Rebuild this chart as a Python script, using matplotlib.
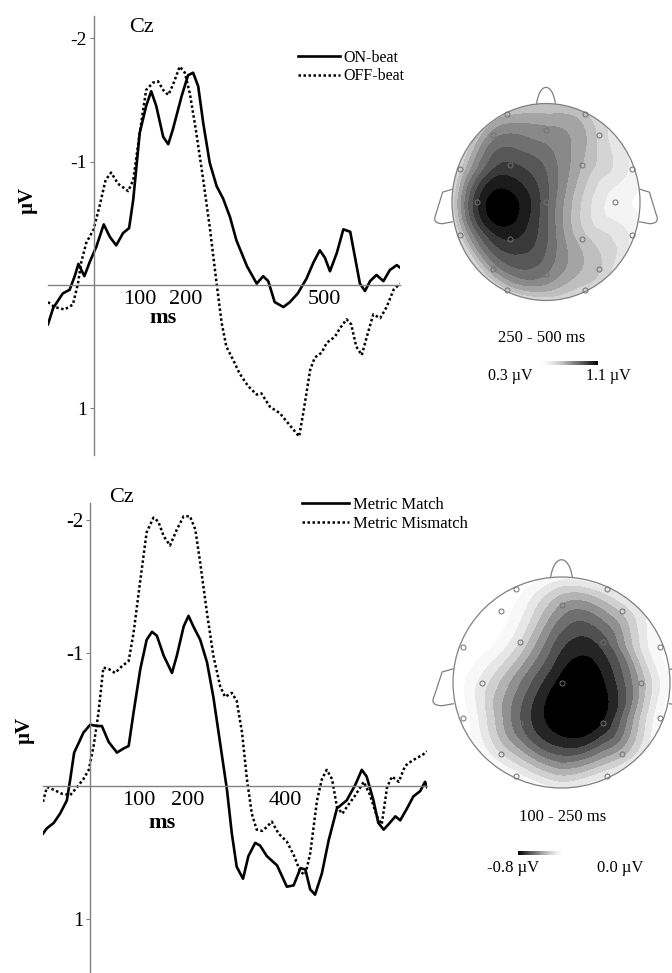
import numpy as np
import matplotlib
matplotlib.use('Agg')
import matplotlib.pyplot as plt
import matplotlib.tri as mtri
from matplotlib.patches import Circle, PathPatch
from matplotlib.path import Path
from matplotlib.cm import ScalarMappable
from matplotlib.colors import Normalize

plt.rcParams['font.family'] = ['Liberation Serif', 'DejaVu Serif']

W, H = 672, 973
GRAY = '#808080'

# ---- top panel: ON-beat vs OFF-beat (ms, microvolts) ----
on_t = [-99, -88, -67, -52, -41, -33, -20, -9, 6, 22, 35, 49, 64, 77, 86, 100,
        114, 125, 136, 151, 162, 172, 191, 205, 216, 227, 238, 252, 267, 281,
        296, 310, 333, 354, 368, 379, 393, 412, 426, 443, 462, 477, 491, 502,
        513, 528, 542, 557, 567, 578, 589, 600, 614, 629, 643, 658, 665]
on_v = [0.32, 0.19, 0.07, 0.04, -0.07, -0.17, -0.07, -0.18, -0.31, -0.49, -0.39,
        -0.32, -0.42, -0.46, -0.69, -1.23, -1.45, -1.57, -1.45, -1.20, -1.14,
        -1.26, -1.53, -1.70, -1.72, -1.61, -1.31, -0.99, -0.80, -0.70, -0.55,
        -0.36, -0.15, -0.01, -0.07, -0.03, 0.14, 0.18, 0.14, 0.07, -0.05, -0.18,
        -0.28, -0.22, -0.11, -0.26, -0.45, -0.43, -0.23, -0.01, 0.05, -0.03,
        -0.08, -0.03, -0.12, -0.16, -0.14]
off_t = [-99, -85, -63, -45, -34, -27, -16, 0, 13, 26, 38, 53, 75, 86, 100, 114,
         129, 140, 151, 162, 172, 187, 198, 209, 223, 238, 252, 267, 278, 288,
         303, 317, 335, 354, 364, 383, 404, 426, 446, 455, 470, 480, 495, 506,
         524, 535, 549, 559, 570, 582, 593, 607, 622, 636, 651, 665]
off_v = [0.14, 0.18, 0.20, 0.16, -0.01, -0.18, -0.34, -0.45, -0.64, -0.85, -0.91,
         -0.82, -0.76, -0.85, -1.23, -1.58, -1.64, -1.65, -1.58, -1.54, -1.62,
         -1.77, -1.72, -1.55, -1.23, -0.85, -0.47, -0.01, 0.31, 0.50, 0.61, 0.72,
         0.82, 0.89, 0.88, 0.99, 1.04, 1.14, 1.23, 1.04, 0.69, 0.59, 0.55, 0.47,
         0.42, 0.35, 0.28, 0.32, 0.50, 0.57, 0.42, 0.24, 0.27, 0.18, 0.04, -0.01]

# ---- bottom panel: Metric Match vs Metric Mismatch ----
match_t = [-97, -89, -75, -62, -48, -41, -33, -24, -14, 0, 14, 24, 38, 55, 68, 79,
           89, 103, 116, 127, 137, 151, 168, 178, 192, 202, 212, 226, 240, 253,
           267, 281, 291, 301, 314, 325, 339, 349, 363, 384, 404, 418, 432, 442,
           452, 462, 476, 490, 507, 527, 545, 558, 568, 582, 592, 603, 613, 627,
           637, 651, 664, 678, 688, 692]
match_v = [0.36, 0.32, 0.28, 0.21, 0.11, -0.05, -0.25, -0.32, -0.40, -0.46, -0.45,
           -0.45, -0.33, -0.25, -0.28, -0.30, -0.55, -0.88, -1.10, -1.16, -1.13,
           -0.98, -0.85, -0.98, -1.20, -1.28, -1.20, -1.10, -0.93, -0.67, -0.32,
           0.03, 0.36, 0.61, 0.70, 0.53, 0.43, 0.45, 0.53, 0.60, 0.76, 0.75, 0.62,
           0.63, 0.78, 0.82, 0.66, 0.41, 0.17, 0.11, -0.01, -0.12, -0.07, 0.11,
           0.28, 0.33, 0.29, 0.23, 0.26, 0.17, 0.08, 0.04, -0.03, 0.01]
mism_t = [-97, -89, -75, -58, -41, -27, -14, -3, 7, 17, 27, 38, 51, 65, 79, 89,
          103, 116, 130, 140, 151, 164, 178, 192, 205, 216, 226, 240, 253, 267,
          277, 291, 301, 312, 322, 332, 342, 353, 363, 373, 387, 404, 418, 432,
          442, 452, 466, 476, 486, 497, 507, 518, 531, 545, 562, 575, 589, 599,
          610, 620, 634, 647, 658, 671, 682, 692]
mism_v = [0.12, 0.01, 0.03, 0.06, 0.07, 0.01, -0.05, -0.12, -0.30, -0.55, -0.89,
          -0.88, -0.85, -0.90, -0.94, -1.15, -1.55, -1.91, -2.02, -1.99, -1.88,
          -1.81, -1.93, -2.03, -2.03, -1.93, -1.68, -1.30, -0.98, -0.75, -0.67,
          -0.70, -0.64, -0.40, -0.05, 0.21, 0.33, 0.34, 0.31, 0.27, 0.36, 0.42,
          0.52, 0.65, 0.67, 0.51, 0.11, -0.05, -0.12, -0.05, 0.16, 0.21, 0.14,
          0.07, -0.03, 0.07, 0.23, 0.29, 0.01, -0.07, -0.03, -0.15, -0.18, -0.21,
          -0.23, -0.26]

# ---- electrode layout (x right, y towards the nose), head radius 1 ----
elec_x = [-0.42, 0.42, -0.56, 0.0, 0.56, -0.91, -0.38, 0.38, 0.91, -0.73, 0.0,
          0.73, -0.91, -0.38, 0.38, 0.91, -0.56, 0.0, 0.56, -0.42, 0.42]
elec_y = [0.89, 0.89, 0.68, 0.73, 0.68, 0.34, 0.38, 0.38, 0.34, 0.0, 0.0, 0.0,
          -0.34, -0.38, -0.38, -0.34, -0.68, -0.73, -0.68, -0.89, -0.89]
rim_angle = [0, 22.5, 45, 67.5, 90, 112.5, 135, 157.5, 180, 202.5, 225, 247.5,
             270, 292.5, 315, 337.5]

# 250-500 ms map (uV)
top_elec_v = [0.60, 0.55, 0.74, 0.72, 0.52, 0.52, 0.95, 0.62, 0.36, 1.0, 0.88,
              0.34, 0.52, 1.02, 0.58, 0.36, 0.70, 0.78, 0.55, 0.52, 0.50]
top_rim_v = [0.26, 0.28, 0.40, 0.45, 0.45, 0.48, 0.42, 0.34, 0.28, 0.27, 0.26,
             0.30, 0.36, 0.42, 0.36, 0.27]
top_peak = (-0.34, -0.12, 1.12)

# 100-250 ms map (uV)
bot_elec_v = [0.05, -0.12, 0.05, -0.42, -0.28, 0.10, -0.22, -0.66, 0.0, -0.15,
              -0.85, -0.38, 0.05, -0.60, -0.80, -0.02, -0.20, -0.55, -0.34,
              -0.05, -0.12]
bot_rim_v = [0.05, 0.0, -0.02, 0.05, 0.08, 0.1, 0.12, 0.12, 0.12, 0.12, 0.1,
             0.05, 0.02, 0.0, 0.0, 0.05]
bot_peak = (0.08, -0.15, -0.92)


def px_rect(x0, y0, x1, y1):
    return [x0 / W, 1 - y1 / H, (x1 - x0) / W, (y1 - y0) / H]


def fpos(x, y):
    return x / W, 1 - y / H


fig = plt.figure(figsize=(W / 100, H / 100), dpi=100)


def erp_axes(rect, xlim, ylim, xticks, ytick_size, a_t, a_v, b_t, b_v):
    ax = fig.add_axes(rect)
    ax.set_xlim(*xlim)
    ax.set_ylim(*ylim)
    ax.patch.set_alpha(0)
    for s in ['top', 'right']:
        ax.spines[s].set_visible(False)
    for s in ['left', 'bottom']:
        ax.spines[s].set_position(('data', 0))
        ax.spines[s].set_color(GRAY)
        ax.spines[s].set_linewidth(1.0)
    ax.set_xticks(xticks)
    ax.set_xticklabels([str(t) for t in xticks])
    ax.tick_params(axis='x', length=0, pad=4, labelsize=16)
    ax.set_yticks([-2, -1, 1])
    ax.set_yticklabels(['-2', '-1', '1'])
    ax.tick_params(axis='y', length=3, width=0.8, color=GRAY, pad=2,
                   labelsize=ytick_size)
    la, = ax.plot(a_t, a_v, color='black', lw=1.9, solid_joinstyle='round')
    lb, = ax.plot(b_t, b_v, color='black', lw=1.8, linestyle=(0, (1, 1)))
    return ax, la, lb


ax1, l_on, l_off = erp_axes(px_rect(48, 16, 400, 455), (-99, 665), (1.38, -2.18),
                            [100, 200, 500], 14, on_t, on_v, off_t, off_v)
ax2, l_m, l_mm = erp_axes(px_rect(43, 503, 427, 973), (-97, 692), (1.41, -2.13),
                          [100, 200, 400], 15, match_t, match_v, mism_t, mism_v)

for (x, y) in [(142, 28), (122, 498)]:
    fig.text(*fpos(x, y), 'Cz', fontsize=16, ha='center', va='center')
for (x, y) in [(28, 200), (25, 730)]:
    fig.text(*fpos(x, y), 'µV', fontsize=15, fontweight='bold', rotation=90,
             ha='center', va='center')
for (x, y) in [(163, 318), (162, 823)]:
    fig.text(*fpos(x, y), 'ms', fontsize=16, fontweight='bold',
             ha='center', va='center')

fig.legend([l_on, l_off], ['ON-beat', 'OFF-beat'], loc='upper left',
           bbox_to_anchor=fpos(298, 50), frameon=False, fontsize=11.5,
           borderpad=0, borderaxespad=0, handlelength=2.6, handletextpad=0.25,
           labelspacing=0.15)
fig.legend([l_m, l_mm], ['Metric Match', 'Metric Mismatch'], loc='upper left',
           bbox_to_anchor=fpos(302, 497), frameon=False, fontsize=12,
           borderpad=0, borderaxespad=0, handlelength=2.8, handletextpad=0.25,
           labelspacing=0.15)


def head_outline(ax):
    ax.add_patch(Circle((0, 0), 1.0, fill=False, ec=GRAY, lw=0.9, zorder=5))
    nose = Path([(-0.1, 0.995), (-0.07, 1.22), (0.07, 1.22), (0.1, 0.995)],
                [Path.MOVETO, Path.CURVE4, Path.CURVE4, Path.CURVE4])
    ax.add_patch(PathPatch(nose, fill=False, ec=GRAY, lw=0.9, zorder=5))
    for sgn in (-1, 1):
        ear = Path([(sgn * 0.995, 0.13), (sgn * 1.1, 0.1), (sgn * 1.17, -0.12),
                    (sgn * 1.22, -0.22), (sgn * 1.1, -0.22), (sgn * 0.99, -0.2)],
                   [Path.MOVETO, Path.LINETO, Path.LINETO, Path.CURVE3,
                    Path.CURVE3, Path.LINETO])
        ax.add_patch(PathPatch(ear, fill=False, ec=GRAY, lw=0.9, zorder=5))


def topo(cx, cy, rx, ry, elec_v, rim_v, peak, levels, cmap, vmin, vmax):
    ax = fig.add_axes(px_rect(cx - 1.25 * rx, cy - 1.25 * ry,
                              cx + 1.25 * rx, cy + 1.25 * ry))
    ax.set_xlim(-1.25, 1.25)
    ax.set_ylim(-1.25, 1.25)
    ax.axis('off')
    ang = np.deg2rad(rim_angle)
    x = np.r_[elec_x, 1.08 * np.cos(ang), peak[0]]
    y = np.r_[elec_y, 1.08 * np.sin(ang), peak[1]]
    z = np.r_[elec_v, rim_v, peak[2]]
    tri = mtri.Triangulation(x, y)
    tri_f, z_f = mtri.UniformTriRefiner(tri).refine_field(z, subdiv=4)
    cs = ax.tricontourf(tri_f, z_f, levels=levels, cmap=cmap,
                        norm=Normalize(vmin, vmax), extend='both')
    cs.set_clip_path(Circle((0, 0), 1.0, transform=ax.transData))
    ax.plot(elec_x, elec_y, 'o', mfc='none', mec='#707070', ms=3.6, mew=0.7,
            zorder=6)
    head_outline(ax)
    return ax


topo(546, 202, 94, 98.5, top_elec_v, top_rim_v, top_peak,
     np.linspace(0.3, 1.1, 11), 'Greys', 0.26, 1.14)
topo(561.5, 682.5, 108.5, 105.5, bot_elec_v, bot_rim_v, bot_peak,
     np.linspace(-0.8, 0.0, 9), 'Greys_r', -0.86, 0.0)

fig.text(*fpos(542, 338), '250 - 500 ms', fontsize=12, ha='center', va='center')
fig.text(*fpos(563, 817), '100 - 250 ms', fontsize=12, ha='center', va='center')

# colour scales
cax1 = fig.add_axes(px_rect(542, 361, 598, 365))
cb1 = fig.colorbar(ScalarMappable(Normalize(0.3, 1.1), 'Greys'), cax=cax1,
                   orientation='horizontal')
cax2 = fig.add_axes(px_rect(518, 851, 563, 855))
cb2 = fig.colorbar(ScalarMappable(Normalize(-0.8, 0.0), 'Greys_r'), cax=cax2,
                   orientation='horizontal')
for cb in (cb1, cb2):
    cb.outline.set_visible(False)
    cb.set_ticks([])

fig.text(*fpos(510, 376), '0.3 µV', fontsize=11.5, ha='center', va='center')
fig.text(*fpos(608, 376), '1.1 µV', fontsize=11.5, ha='center', va='center')
fig.text(*fpos(513, 868), '-0.8 µV', fontsize=12, ha='center', va='center')
fig.text(*fpos(620, 868), '0.0 µV', fontsize=12, ha='center', va='center')

fig.savefig('out.png', dpi=100)
